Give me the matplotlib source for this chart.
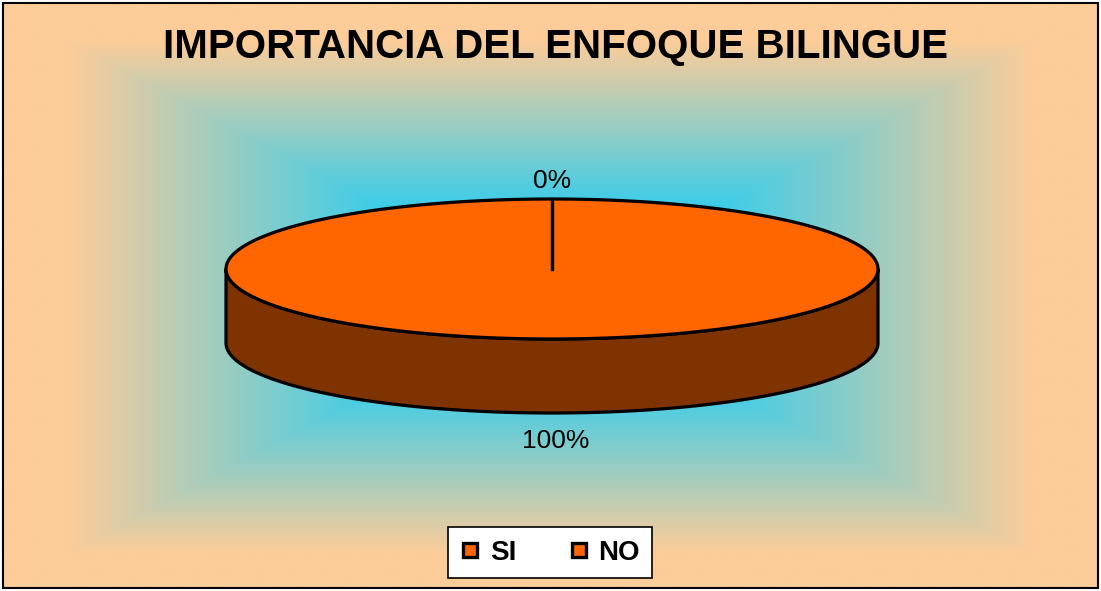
import numpy as np
import matplotlib.pyplot as plt
from matplotlib.patches import Polygon, Rectangle
from matplotlib.lines import Line2D

# data
categories = ['SI', 'NO']
values = [100, 0]
pct_labels = ['100%', '0%']
title = 'IMPORTANCIA DEL ENFOQUE BILINGUE'

W, H = 1101, 591
top_col = '#FF6600'
side_col = '#7F3300'
edge_peach = np.array([252, 204, 153]) / 255
center_cyan = np.array([55, 205, 235]) / 255

fig = plt.figure(figsize=(W / 100, H / 100), dpi=100)
ax = fig.add_axes([0, 0, 1, 1])
ax.set_xlim(0, W)
ax.set_ylim(H, 0)
ax.axis('off')

# rectangular "from center" gradient background
xx, yy = np.meshgrid(np.linspace(0, W, 500), np.linspace(0, H, 300))
t = np.maximum(np.abs(xx - W / 2) / (W / 2), np.abs(yy - 297) / 294)
t = np.clip((t - 0.3) / 0.58, 0, 1)[..., None]
bg = center_cyan * (1 - t) + edge_peach * t
ax.imshow(bg, extent=(3, W - 3, H - 3, 3), aspect='auto', zorder=0,
          interpolation='bilinear')
ax.add_patch(Rectangle((3, 3), W - 6, H - 6, fill=False, ec='black', lw=1.5, zorder=10))

ax.text(W / 2 + 5, 47, title, ha='center', va='center', fontsize=29,
        fontweight='bold', family='Liberation Sans')

# 3D pie geometry
cx, cy, a, b, depth = 552, 269, 326, 70, 74


def pt(th, dy=0):
    return cx + a * np.cos(th), cy - b * np.sin(th) + dy


fracs = np.array(values, dtype=float) / sum(values)
start = np.pi / 2
bounds = []
for f in fracs:
    end = start - f * 2 * np.pi
    bounds.append((start, end))
    start = end

# side walls (front half only)
for (s, e) in bounds:
    if s == e:
        continue
    th = np.linspace(s, e, 400)
    front = th[np.sin(th) <= 0]
    if len(front) < 2:
        continue
    x1, y1 = pt(front)
    x2, y2 = pt(front[::-1], depth)
    poly = np.column_stack([np.r_[x1, x2], np.r_[y1, y2]])
    ax.add_patch(Polygon(poly, closed=True, fc=side_col, ec='black', lw=2.3,
                         joinstyle='round', zorder=2))

# top faces
for (s, e) in bounds:
    if s == e:
        continue
    th = np.linspace(s, e, 400)
    x, y = pt(th)
    if abs(s - e) < 2 * np.pi - 1e-9:
        x, y = np.r_[cx, x], np.r_[cy, y]
    ax.add_patch(Polygon(np.column_stack([x, y]), closed=True, fc=top_col,
                         ec='black', lw=2.3, joinstyle='round', zorder=3))

# slice boundary lines
for (s, e) in bounds:
    x, y = pt(s)
    ax.plot([cx, x], [cy, y], color='black', lw=2.3, zorder=4)

# percentage labels: zero slices above the top edge, others below the wall
for (s, e), lab, f in zip(bounds, pct_labels, fracs):
    mid = (s + e) / 2
    if f == 0:
        lx, ly = pt(mid, -18)
    else:
        lx, ly = pt(mid, depth + 28)
        lx += 4
    ax.text(lx, ly, lab, ha='center', va='center', fontsize=19,
            family='Liberation Sans')

handles = [Line2D([], [], ls='none', marker='s', ms=10.5, mfc=top_col, mec='black',
                  mew=2.4) for _ in categories]
leg = ax.legend(handles, categories, loc='center', ncol=2,
                bbox_to_anchor=(550 / W, 1 - 552.5 / H),
                frameon=True, fancybox=False, edgecolor='black', framealpha=1,
                prop={'family': 'Liberation Sans', 'weight': 'bold', 'size': 20},
                handlelength=0.7, handletextpad=0.35, columnspacing=1.9,
                borderpad=0.45, borderaxespad=0)
leg.get_frame().set_linewidth(1.2)

fig.savefig('out.png', dpi=100)
